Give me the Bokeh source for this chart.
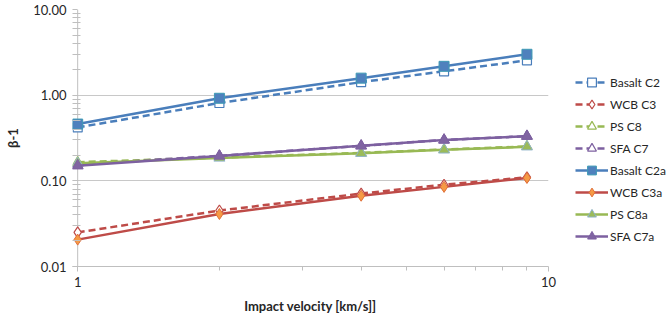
from bokeh.plotting import figure
from bokeh.layouts import row
from bokeh.models import (Range1d, FixedTicker, PrintfTickFormatter, Legend, LegendItem, Span)
from bokeh.embed import file_html
from bokeh.resources import INLINE

x_vel = [1, 2, 4, 6, 9]
basalt_c2 = [0.42, 0.81, 1.42, 1.90, 2.55]
wcb_c3 = [0.025, 0.045, 0.071, 0.090, 0.110]
ps_c8 = [0.165, 0.187, 0.212, 0.232, 0.252]
sfa_c7 = [0.155, 0.196, 0.256, 0.300, 0.332]
basalt_c2a = [0.46, 0.92, 1.58, 2.17, 3.00]
wcb_c3a = [0.0206, 0.041, 0.067, 0.085, 0.108]
ps_c8a = [0.160, 0.185, 0.210, 0.230, 0.250]
sfa_c7a = [0.150, 0.195, 0.256, 0.300, 0.332]

names = ["Basalt C2", "WCB C3", "PS C8", "SFA C7",
         "Basalt C2a", "WCB C3a", "PS C8a", "SFA C7a"]

y_ticks = [0.01, 0.1, 1, 10]
y_minor = [m * d for d in [0.01, 0.1, 1] for m in range(2, 10)]
x_ticks = [1, 10]
x_minor = list(range(2, 10))
x_axis_at = 1

FONT = "Lato"
BLUE = "#4A7EBB"
RED = "#BE4B48"
GREEN = "#98B954"
PURPLE = "#7D60A0"
AXIS = "#BFBFBF"

dashed = [(basalt_c2, BLUE, "square", 9),
          (wcb_c3, RED, "diamond", 11),
          (ps_c8, GREEN, "triangle", 10),
          (sfa_c7, PURPLE, "triangle", 10)]
solid = [(basalt_c2a, BLUE, "square", 10, "#4F81BD", "#3E9BB5"),
         (wcb_c3a, RED, "diamond", 11, "#F59A45", "#E0703A"),
         (ps_c8a, GREEN, "triangle", 11, "#9BBB59", "#8FB2C8"),
         (sfa_c7a, PURPLE, "triangle", 11, "#8064A2", "#7D60A0")]


def draw_series(fig):
    items = []
    for (ys, col, mk, sz), nm in zip(dashed, names[:4]):
        l = fig.line(x_vel, ys, line_color=col, line_width=2.5, line_dash="7 4")
        s = fig.scatter(x_vel, ys, marker=mk, size=sz, fill_color="white",
                        line_color=col, line_width=1.2)
        items.append(LegendItem(label=nm, renderers=[l, s]))
    for (ys, col, mk, sz, fc, lc), nm in zip(solid, names[4:]):
        l = fig.line(x_vel, ys, line_color=col, line_width=2.5)
        s = fig.scatter(x_vel, ys, marker=mk, size=sz, fill_color=fc,
                        line_color=lc, line_width=1)
        items.append(LegendItem(label=nm, renderers=[l, s]))
    return items


# a little room left of x = 1 so the first markers are not cut by the frame
p = figure(width=560, height=324, output_backend="svg", toolbar_location=None,
           x_axis_type="log", y_axis_type="log",
           x_range=Range1d(0.975, 10), y_range=Range1d(0.01, 10),
           min_border_left=72, min_border_right=12, min_border_top=9,
           min_border_bottom=58)
p.outline_line_color = None
p.background_fill_color = "white"
p.border_fill_color = "white"

p.yaxis.ticker = FixedTicker(ticks=y_ticks, minor_ticks=y_minor)
p.xaxis.ticker = FixedTicker(ticks=x_ticks, minor_ticks=x_minor)
p.yaxis.formatter = PrintfTickFormatter(format="%.2f")
p.xaxis.formatter = PrintfTickFormatter(format="%d")
for ax in (p.xaxis[0], p.yaxis[0]):
    ax.axis_line_color = AXIS
    ax.major_tick_line_color = AXIS
    ax.minor_tick_line_color = AXIS
    ax.major_label_text_font = FONT
    ax.major_label_text_font_size = "13px"
    ax.major_label_text_color = "#262626"
    ax.axis_label_text_font = FONT
    ax.axis_label_text_font_size = "13px"
    ax.axis_label_text_font_style = "bold"
    ax.axis_label_text_color = "#262626"
p.yaxis.axis_line_color = None
p.yaxis.major_tick_out = 0
p.yaxis.major_tick_in = 5
p.yaxis.minor_tick_out = 0
p.yaxis.minor_tick_in = 8
p.yaxis.major_label_standoff = 6
p.yaxis.axis_label = "β-1"
p.yaxis.axis_label_standoff = 9
p.xaxis.major_tick_out = 5
p.xaxis.major_tick_in = 0
p.xaxis.minor_tick_out = 4
p.xaxis.minor_tick_in = 0
p.xaxis.major_label_standoff = 5
p.xaxis.axis_label = "Impact velocity [km/s]]"
p.xaxis.axis_label_standoff = 8

p.xgrid.grid_line_color = None
p.ygrid.grid_line_color = "#C8C8C8"
p.ygrid.grid_line_width = 1

# vertical axis line at x = 1
p.add_layout(Span(location=x_axis_at, dimension="height", line_color=AXIS,
                  line_width=1, level="underlay"))

draw_series(p)

# legend panel: a bare figure whose data range lies away from the series
lf = figure(width=107, height=324, output_backend="svg", toolbar_location=None,
            x_range=Range1d(100, 101), y_range=Range1d(100, 101),
            min_border=0)
lf.axis.visible = False
lf.grid.visible = False
lf.outline_line_color = None
items = draw_series(lf)
legend = Legend(items=items, location=(15, 19), padding=0, margin=0,
                spacing=0, glyph_width=33, glyph_height=22,
                label_standoff=2, label_height=22,
                label_text_font=FONT, label_text_font_size="12px",
                label_text_color="#262626",
                border_line_color=None, background_fill_alpha=0)
lf.add_layout(legend, "center")

layout = row(p, lf, spacing=0)
open("out.html", "w").write(file_html(layout, INLINE))
